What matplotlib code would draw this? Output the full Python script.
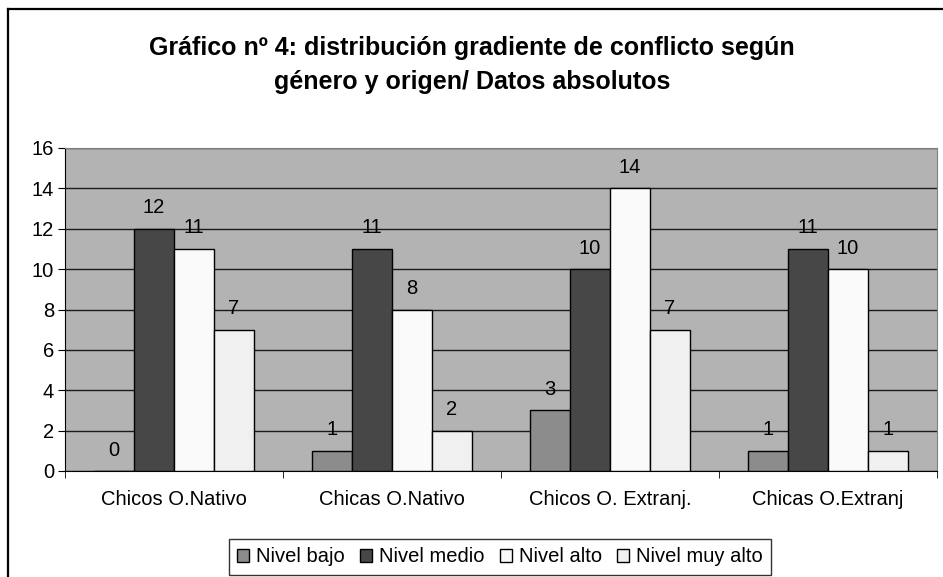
import numpy as np
import matplotlib
matplotlib.use('Agg')
from matplotlib import pyplot as plt
from matplotlib.lines import Line2D

categories = ['Chicos O.Nativo', 'Chicas O.Nativo', 'Chicos O. Extranj.', 'Chicas O.Extranj']
series_names = ['Nivel bajo', 'Nivel medio', 'Nivel alto', 'Nivel muy alto']
nivel_bajo = [0, 1, 3, 1]
nivel_medio = [12, 11, 10, 11]
nivel_alto = [11, 8, 14, 10]
nivel_muy_alto = [7, 2, 7, 1]
series_values = [nivel_bajo, nivel_medio, nivel_alto, nivel_muy_alto]
colors = ['#8c8c8c', '#474747', '#fafafa', '#f0f0f0']
yticks = [0, 2, 4, 6, 8, 10, 12, 14, 16]

plt.rcParams['font.family'] = ['Liberation Sans', 'DejaVu Sans']

W, H = 943, 577
fig = plt.figure(figsize=(W / 100, H / 100), dpi=100)

# plot area in pixels: left 65, right 937, top 148, bottom 471
ax = fig.add_axes([65 / W, 1 - 471 / H, (937 - 65) / W, (471 - 148) / H])
ax.set_facecolor('#b3b3b3')
for side in ['top', 'right']:
    ax.spines[side].set_color('#808080')
for side in ['left', 'bottom']:
    ax.spines[side].set_color('black')

x = np.arange(len(categories))
bar_w = 0.183
for i, (name, vals) in enumerate(zip(series_names, series_values)):
    pos = x + (i - 1.5) * bar_w
    ax.bar(pos, vals, width=bar_w, color=colors[i], edgecolor='black', linewidth=1.0,
           label=name, zorder=3)
    for px, v in zip(pos, vals):
        ax.annotate(str(v), (px, v), xytext=(0, 21), textcoords='offset pixels',
                    ha='center', va='center', fontsize=14.5)

ax.set_xlim(-0.5, len(categories) - 0.5)
ax.set_ylim(0, 16)
ax.set_yticks(yticks)
ax.tick_params(axis='y', labelsize=14.5, length=5, direction='out', pad=3)
ax.yaxis.grid(True, color='#1a1a1a', linewidth=1.0, zorder=1)
ax.set_axisbelow(True)

# category labels centred, ticks on the separators
ax.set_xticks(x)
ax.set_xticklabels(categories, fontsize=14.5)
ax.tick_params(axis='x', length=0, pad=14)
ax.set_xticks(np.arange(len(categories) + 1) - 0.5, minor=True)
ax.tick_params(axis='x', which='minor', length=5, direction='out')

fig.text(472 / W, 1 - 48 / H, 'Gráfico nº 4: distribución gradiente de conflicto según',
         ha='center', va='center', fontsize=18, fontweight='bold')
fig.text(472 / W, 1 - 82 / H, 'género y origen/ Datos absolutos',
         ha='center', va='center', fontsize=18, fontweight='bold')

# chart border (left and top visible)
fig.add_artist(Line2D([8 / W, 8 / W], [0, 1 - 9 / H], color='black', linewidth=1.6))
fig.add_artist(Line2D([8 / W, 1], [1 - 9 / H, 1 - 9 / H], color='black', linewidth=1.6))

leg = fig.legend(loc='center', bbox_to_anchor=(500 / W, 1 - 557 / H), ncol=4,
                 fontsize=14.5, frameon=True, fancybox=False, edgecolor='black',
                 handlelength=0.6, handleheight=0.6, handletextpad=0.35,
                 columnspacing=0.75, borderpad=0.4)
leg.get_frame().set_linewidth(1.0)

plt.savefig('out.png', dpi=100)
